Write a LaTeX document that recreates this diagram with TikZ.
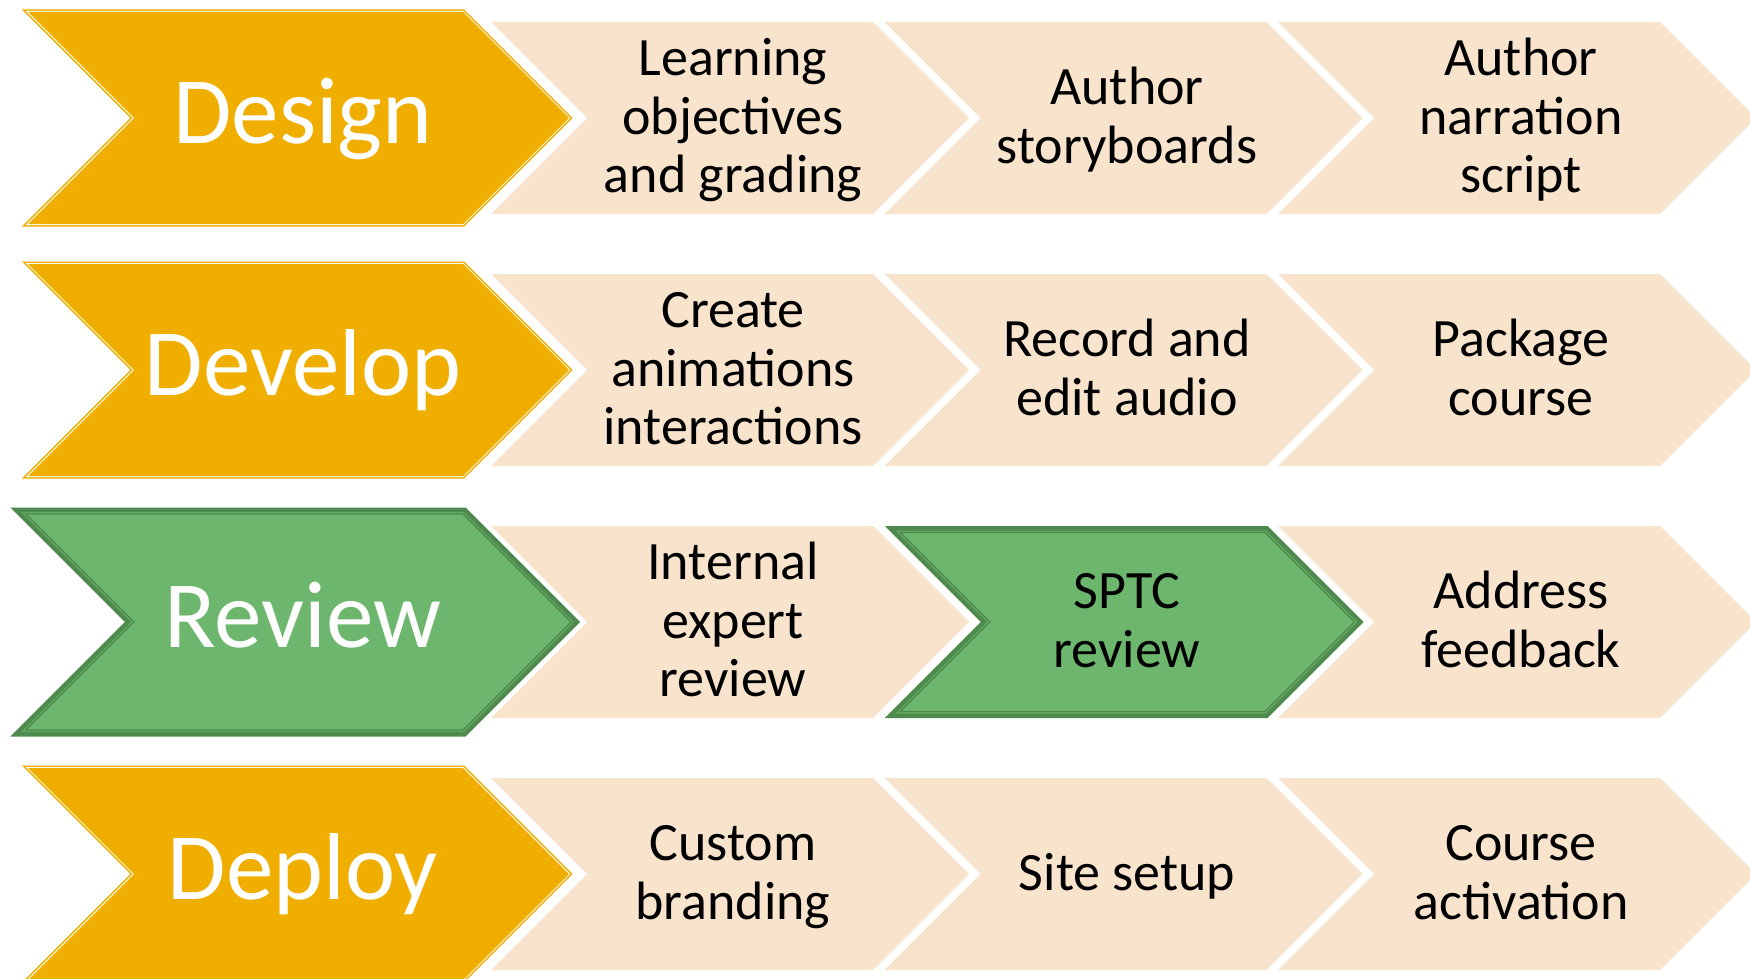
\documentclass[tikz,border=0pt]{standalone}
\usepackage{fontspec}
\setmainfont{Carlito}
\definecolor{goldc}{HTML}{F0AE00}
\definecolor{beigec}{HTML}{F8E3CC}
\definecolor{greenc}{HTML}{6DB66D}
\definecolor{darkgreen}{HTML}{4E8A4E}
\definecolor{midgreen}{HTML}{62A862}
\newcommand\goldchev[4]{%
  \draw[goldc, line width=5pt, miter limit=10] (#1,#2) ++(0,-#3) -- ++(#4,0) -- ++(#3,#3) -- ++(-#3,#3) -- ++(-#4,0) -- ++(#3,-#3) -- cycle;
  \draw[white, line width=2pt, miter limit=10] (#1,#2) ++(0,-#3) -- ++(#4,0) -- ++(#3,#3) -- ++(-#3,#3) -- ++(-#4,0) -- ++(#3,-#3) -- cycle;
  \fill[goldc] (#1,#2) ++(0,-#3) -- ++(#4,0) -- ++(#3,#3) -- ++(-#3,#3) -- ++(-#4,0) -- ++(#3,-#3) -- cycle;}
\newcommand\greenchev[4]{%
  \draw[darkgreen, line width=13pt, miter limit=10] (#1,#2) ++(0,-#3) -- ++(#4,0) -- ++(#3,#3) -- ++(-#3,#3) -- ++(-#4,0) -- ++(#3,-#3) -- cycle;
  \draw[midgreen, line width=4pt, miter limit=10] (#1,#2) ++(0,-#3) -- ++(#4,0) -- ++(#3,#3) -- ++(-#3,#3) -- ++(-#4,0) -- ++(#3,-#3) -- cycle;
  \fill[greenc] (#1,#2) ++(0,-#3) -- ++(#4,0) -- ++(#3,#3) -- ++(-#3,#3) -- ++(-#4,0) -- ++(#3,-#3) -- cycle;
  \draw[darkgreen, line width=1.3pt, miter limit=10] (#1,#2) ++(0,-#3) -- ++(#4,0) -- ++(#3,#3) -- ++(-#3,#3) -- ++(-#4,0) -- ++(#3,-#3) -- cycle;}
\newcommand\beigechev[2]{%
  \fill[beigec] (#1,#2) ++(0,-96) -- ++(382,0) -- ++(96,96) -- ++(-96,96) -- ++(-382,0) -- ++(96,-96) -- cycle;}
\tikzset{
  bigtxt/.style={text=white, inner sep=0pt, anchor=base, font=\fontsize{95}{100}\selectfont},
  bodytxt/.style={text=black, inner sep=0pt, align=center, font=\fontsize{54}{58.6}\selectfont},
}
\newcommand\tl[1]{\strut#1\strut}
\begin{document}
\begin{tikzpicture}[x=1pt, y=-1pt]
\useasboundingbox (0,0) rectangle (1750,979);
\clip (0,0) rectangle (1750,979);
% beige chevrons
\foreach \r in {118,370,622,874}{
  \beigechev{491}{\r}
  \beigechev{884.5}{\r}
  \beigechev{1278}{\r}
}
% phase chevrons
\goldchev{28}{118}{106}{435}
\goldchev{28}{370}{106}{435}
\greenchev{26}{622}{108}{437}
\goldchev{28}{874}{106}{435}
% SPTC highlight
\greenchev{900.5}{622}{89.5}{364.5}
% labels
\node[bigtxt] (design) at (303,143) {Design};
\node[bigtxt] (develop) at (303,395) {Develop};
\node[bigtxt] (review) at (303,647) {Review};
\node[bigtxt] (deploy) at (303,899) {Deploy};
\node[bodytxt] (t11) at (733,122.5) {\tl{Learning\\objectives\\and grading}};
\node[bodytxt] (t12) at (1127,122.5) {\tl{Author\\storyboards}};
\node[bodytxt] (t13) at (1521,122.5) {\tl{Author\\narration\\script}};
\node[bodytxt] (t21) at (733,374.5) {\tl{Create\\animations\\interactions}};
\node[bodytxt] (t22) at (1127,374.5) {\tl{Record and\\edit audio}};
\node[bodytxt] (t23) at (1521,374.5) {\tl{Package\\course}};
\node[bodytxt] (t31) at (733,626.5) {\tl{Internal\\expert\\review}};
\node[bodytxt] (t32) at (1127,626.5) {\tl{SPTC\\review}};
\node[bodytxt] (t33) at (1521,626.5) {\tl{Address\\feedback}};
\node[bodytxt] (t41) at (733,878.5) {\tl{Custom\\branding}};
\node[bodytxt] (t42) at (1127,878.5) {\tl{Site setup}};
\node[bodytxt] (t43) at (1521,878.5) {\tl{Course\\activation}};
\end{tikzpicture}
\end{document}
